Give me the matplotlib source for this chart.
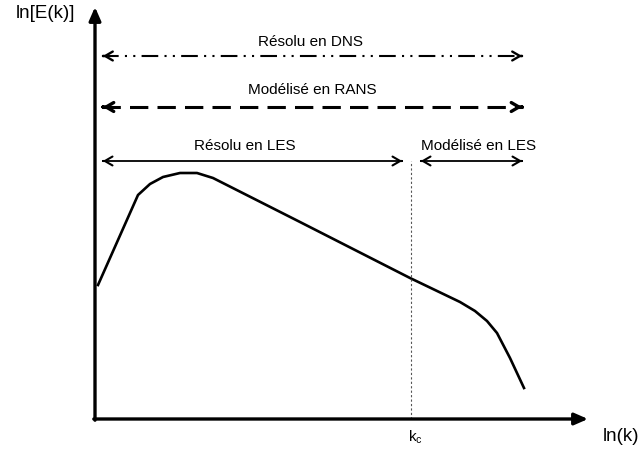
import matplotlib.pyplot as plt

plt.rcParams["font.family"] = ["Liberation Sans", "DejaVu Sans"]

# energy spectrum sketch, in ln(k) / ln(E) units (arbitrary, origin at axis corner)
LNK = [3, 43, 55, 68, 85, 102, 118, 205, 315, 365, 380, 392, 402, 415, 429]
LNE = [134, 224, 235, 242, 246, 246, 241, 197, 141, 117, 108, 98, 86, 61, 31]

K_START = 5
K_END = 430
K_CUT = 316

DNS_LEVEL = 363
RANS_LEVEL = 312
LES_LEVEL = 258

FONT_SIZE = 11
AXIS_FONT_SIZE = 13.5


def double_arrow(ax, x0, x1, y, lw, ls):
    ax.plot([x0 + 2, x1 - 2], [y, y], color="black", lw=lw, ls=ls, solid_capstyle="butt")
    head = dict(arrowstyle="->,head_length=0.55,head_width=0.32", color="black", lw=lw + 0.2)
    ax.annotate("", xy=(x0, y), xytext=(x0 + 6, y), arrowprops=head)
    ax.annotate("", xy=(x1, y), xytext=(x1 - 6, y), arrowprops=head)


def main():
    fig = plt.figure(figsize=(6.41, 4.52), dpi=100)
    ax = fig.add_axes([0, 0, 1, 1])
    ax.set_xlim(-95, 546)
    ax.set_ylim(-32, 420)
    ax.axis("off")

    # axes with arrows
    axis_head = dict(arrowstyle="-|>,head_length=0.8,head_width=0.35", color="black",
                     lw=2.4, shrinkA=0, shrinkB=0)
    ax.annotate("", xy=(0, 412), xytext=(0, -1.2), arrowprops=axis_head)
    ax.annotate("", xy=(493, 0), xytext=(-1.2, 0), arrowprops=axis_head)

    ax.text(-50, 406, "ln[E(k)]", fontsize=AXIS_FONT_SIZE, ha="center", va="center")
    ax.text(544, -17, "ln(k)", fontsize=AXIS_FONT_SIZE, ha="right", va="center")
    ax.text(320, -17, r"k$_\mathregular{c}$", fontsize=FONT_SIZE, ha="center", va="center")

    # spectrum
    ax.plot(LNK, LNE, color="black", lw=1.9, solid_joinstyle="round")

    # cut-off wavenumber
    ax.plot([K_CUT, K_CUT], [0, LES_LEVEL], color="#555555", lw=0.8, ls=(0, (2, 2)))

    # ranges
    double_arrow(ax, K_START, K_END, DNS_LEVEL, 1.5, (0, (8, 3, 1, 3, 1, 3)))
    ax.text(216, 378, "Résolu en DNS", fontsize=FONT_SIZE, ha="center", va="center")

    double_arrow(ax, K_START, K_END, RANS_LEVEL, 2.2, (0, (6, 3)))
    ax.text(217, 330, "Modélisé en RANS", fontsize=FONT_SIZE, ha="center", va="center")

    double_arrow(ax, K_START, K_CUT - 6, LES_LEVEL, 1.3, "-")
    ax.text(150, 274, "Résolu en LES", fontsize=FONT_SIZE, ha="center", va="center")

    double_arrow(ax, K_CUT + 7, K_END, LES_LEVEL, 1.3, "-")
    ax.text(384, 274, "Modélisé en LES", fontsize=FONT_SIZE, ha="center", va="center")

    fig.savefig("out.png", dpi=100)


if __name__ == "__main__":
    main()
